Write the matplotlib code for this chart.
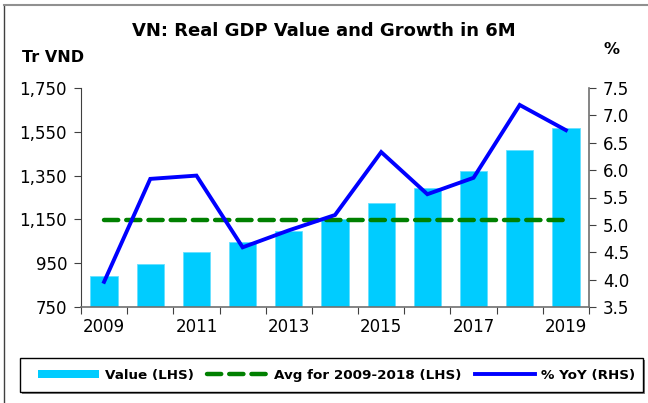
import matplotlib
matplotlib.use("Agg")
import matplotlib.pyplot as plt
from matplotlib.lines import Line2D
from matplotlib.patches import Patch, Rectangle

plt.rcParams['font.family'] = ['DejaVu Sans']

years = [2009, 2010, 2011, 2012, 2013, 2014, 2015, 2016, 2017, 2018, 2019]
value = [891, 945, 1000, 1045, 1097, 1150, 1225, 1292, 1371, 1467, 1566]
avg_value = 1149
yoy = [3.96, 5.84, 5.90, 4.59, 4.90, 5.18, 6.33, 5.56, 5.86, 7.19, 6.73]
left_ticks = [750, 950, 1150, 1350, 1550, 1750]
right_ticks = [3.5, 4.0, 4.5, 5.0, 5.5, 6.0, 6.5, 7.0, 7.5]
x_label_years = [2009, 2011, 2013, 2015, 2017, 2019]

W, H = 648, 403
fig = plt.figure(figsize=(W/100, H/100), dpi=100)
ax = fig.add_axes([81/W, 1-307/H, (589-81)/W, (307-88)/H])
ax2 = ax.twinx()

x = list(range(len(years)))
ax.bar(x, [v - 750 for v in value], bottom=750, width=0.59, color='#00CCFF',
       edgecolor='#66E0FF', linewidth=0.6, zorder=2)
ax.plot([x[0], x[-1]], [avg_value, avg_value], color='#008000', lw=3.2,
        dashes=(3.2, 1.8), solid_capstyle='round', dash_capstyle='round', zorder=3)
ax2.plot(x, yoy, color='#0000FF', lw=2.8, solid_joinstyle='miter', zorder=4)

ax.set_xlim(-0.5, len(years) - 0.5)
ax.set_ylim(750, 1750)
ax2.set_ylim(3.5, 7.5)
ax.set_yticks(left_ticks)
ax.set_yticklabels([f"{t:,}" for t in left_ticks])
ax2.set_yticks(right_ticks)
ax2.set_yticklabels([f"{t:.1f}" for t in right_ticks])

ax.set_xticks([i - 0.5 for i in range(len(years) + 1)])
ax.set_xticklabels([])
ax.set_xticks([years.index(y) for y in x_label_years], minor=True)
ax.set_xticklabels([str(y) for y in x_label_years], minor=True)
ax.tick_params(axis='x', which='minor', length=0, pad=8, labelsize=12)
ax.tick_params(axis='x', which='major', length=5, direction='out', color='#404040')
ax.tick_params(axis='y', length=5, direction='out', labelsize=12, pad=5, color='#404040')
ax2.tick_params(axis='y', length=5, direction='out', labelsize=12, pad=5, color='#404040')

for a in (ax, ax2):
    a.spines['top'].set_visible(False)
ax2.spines['left'].set_visible(False)
ax2.spines['bottom'].set_visible(False)
ax.spines['right'].set_visible(False)
ax.spines['left'].set_color('#404040')
ax.spines['bottom'].set_color('#707070')
ax2.spines['right'].set_color('#707070')
ax.spines['bottom'].set_linewidth(1.2)
ax2.spines['right'].set_linewidth(1.2)
ax.set_zorder(ax2.get_zorder() - 1)
ax2.patch.set_visible(False)
ax.patch.set_visible(False)

fig.text(0.5, 1 - 31/H, "VN: Real GDP Value and Growth in 6M", ha='center', va='center',
         fontsize=13, fontweight='bold')
fig.text(22/W, 1 - 58/H, "Tr VND", ha='left', va='center', fontsize=11.5, fontweight='bold')
fig.text(611/W, 1 - 49/H, "%", ha='center', va='center', fontsize=11.5, fontweight='bold')

fig.add_artist(Line2D([4/W, 4/W], [0, 1 - 5/H], transform=fig.transFigure,
                      color='#404040', lw=1.0))
fig.add_artist(Line2D([4/W, 1], [1 - 5/H, 1 - 5/H], transform=fig.transFigure,
                      color='#909090', lw=1.5))

# legend box (with slight shadow)
fig.add_artist(Rectangle((22/W, 1 - 394/H), 623/W, 34/H, transform=fig.transFigure,
                         facecolor='#808080', edgecolor='none', zorder=5))
fig.add_artist(Rectangle((20/W, 1 - 392/H), 623/W, 34/H, transform=fig.transFigure,
                         facecolor='white', edgecolor='black', lw=1.0, zorder=6))

handles = [Patch(facecolor='#00CCFF', edgecolor='none'),
           Line2D([], [], color='#008000', lw=3.2, dashes=(3.2, 1.8), dash_capstyle='round'),
           Line2D([], [], color='#0000FF', lw=2.8)]
labels = ["Value (LHS)", "Avg for 2009-2018 (LHS)", "% YoY (RHS)"]
leg = fig.legend(handles, labels, loc='center left', ncol=3,
                 bbox_to_anchor=(38/W, 1 - 375/H),
                 frameon=False, prop={'weight': 'bold', 'size': 9.7},
                 handlelength=4.5, handleheight=0.55,
                 handletextpad=0.45, columnspacing=1.0, borderaxespad=0, borderpad=0)
leg.set_zorder(7)

fig.savefig("out.png", dpi=100)
